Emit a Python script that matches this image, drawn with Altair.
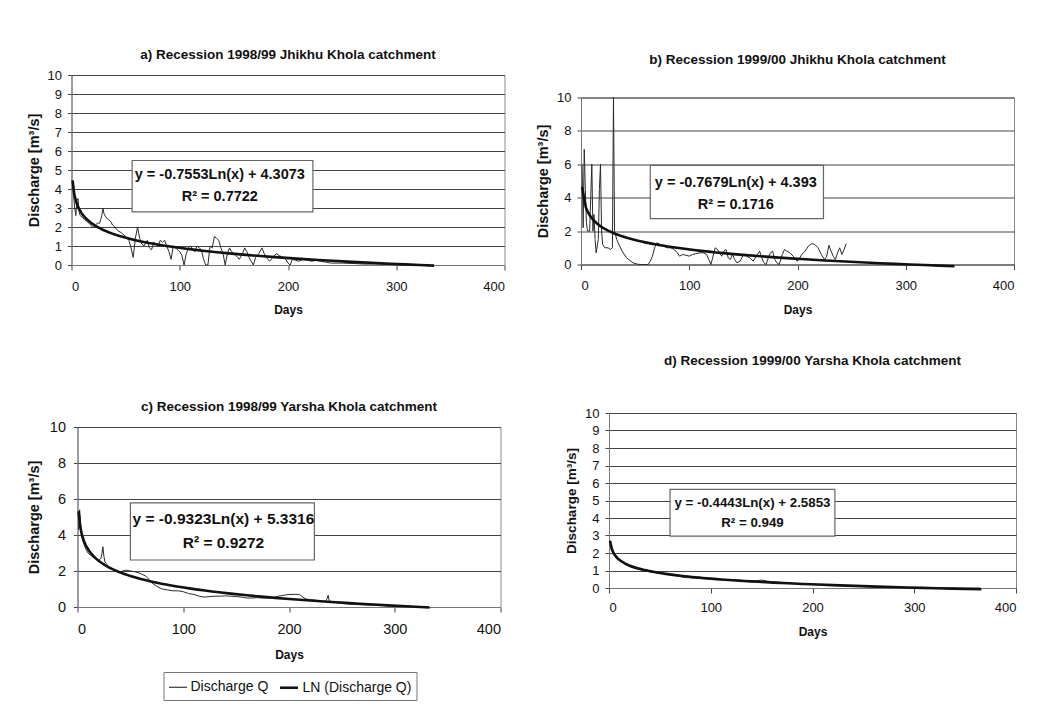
import altair as alt
import pandas as pd

FONT = "Liberation Sans"

# ---------------- data ----------------
a_days = [1, 2, 3, 4, 5, 6, 7, 8, 10, 12, 14, 16, 18, 20, 22, 24, 26, 28, 29, 30,
          32, 34, 36, 38, 40, 43, 46, 50, 53, 55, 57, 59, 61, 63, 65, 67, 70, 72, 74, 76,
          78, 80, 82, 84, 86, 88, 90, 92, 94, 96, 98, 100, 102, 104, 106, 108, 110, 112, 114, 116,
          118, 120, 122, 124, 126, 128, 130, 132, 134, 136, 138, 140, 142, 144, 146, 148, 150, 152, 155, 158,
          160, 162, 164, 166, 168, 170, 173, 176, 178, 180, 183, 186, 189, 192, 195, 198, 200, 202, 204, 207,
          210, 214, 218, 222, 226, 230, 235, 240, 250, 260, 270, 280, 290, 300, 310, 320, 330]
a_q = [4.2, 3.6, 3.0, 2.6, 3.4, 3.5, 2.8, 2.6, 2.5, 2.4, 2.3, 2.2, 2.1, 1.95, 2.1, 2.2, 2.2, 2.6, 3.0, 2.7,
       2.5, 2.4, 2.3, 2.1, 2.0, 1.8, 1.7, 1.5, 1.3, 0.9, 0.4, 1.4, 2.0, 1.4, 1.1, 1.0, 1.3, 0.9, 0.8, 1.2,
       1.1, 1.0, 1.3, 1.2, 1.3, 1.0, 0.7, 0.3, 1.0, 0.9, 0.8, 0.7, 0.5, 0.0, 0.6, 0.9, 1.0, 0.8, 0.7, 1.0,
       0.9, 0.8, 0.3, 0.0, 0.0, 1.0, 0.9, 1.5, 1.4, 1.3, 0.9, 0.6, 0.0, 0.6, 0.9, 0.7, 0.6, 0.5, 0.3, 0.6,
       0.9, 0.7, 0.4, 0.2, 0.0, 0.4, 0.6, 0.9, 0.6, 0.4, 0.2, 0.4, 0.6, 0.5, 0.4, 0.3, 0.1, 0.0, 0.3, 0.25,
       0.2, 0.3, 0.25, 0.2, 0.25, 0.2, 0.15, 0.1, 0.1, 0.08, 0.05, 0.05, 0.03, 0.02, 0.0, 0.0, 0.0]

b_days = [1, 2, 3, 4, 5, 6, 8, 10, 11, 12, 13, 14, 16, 17, 18, 19, 20, 22, 25, 27,
          29, 30, 31, 33, 35, 38, 42, 45, 48, 52, 55, 58, 62, 64, 66, 68, 70, 73, 76, 80,
          83, 86, 89, 91, 94, 97, 100, 103, 106, 110, 113, 116, 118, 120, 122, 124, 126, 128, 130, 132,
          134, 136, 138, 140, 142, 144, 147, 150, 153, 156, 159, 162, 165, 167, 169, 171, 173, 175, 177, 179,
          181, 183, 186, 188, 190, 193, 196, 198, 200, 202, 204, 207, 210, 213, 216, 219, 222, 225, 227, 229,
          231, 233, 235, 237, 239, 241, 243, 245]
b_q = [6.0, 2.2, 6.9, 4.5, 2.5, 2.0, 2.0, 6.0, 2.0, 3.0, 1.5, 0.7, 1.5, 4.5, 6.0, 2.0, 1.2, 1.0, 1.0, 0.9,
       1.0, 10.0, 2.0, 1.5, 1.2, 0.8, 0.4, 0.25, 0.1, 0.02, 0.0, 0.0, 0.0, 0.2, 0.5, 1.0, 1.3, 1.2, 1.1, 1.0,
       1.0, 0.9, 0.7, 0.5, 0.6, 0.55, 0.5, 0.6, 0.65, 0.7, 0.7, 0.6, 0.3, 0.0, 0.5, 1.0, 0.9, 0.7, 0.5, 0.8,
       0.9, 0.4, 0.3, 0.6, 0.3, 0.1, 0.2, 0.6, 0.5, 0.4, 0.2, 0.5, 0.8, 0.4, 0.1, 0.0, 0.4, 0.7, 0.8, 0.3,
       0.1, 0.0, 0.6, 0.9, 0.8, 0.7, 0.5, 0.3, 0.2, 0.4, 0.6, 0.8, 1.1, 1.25, 1.2, 1.0, 0.6, 0.3, 0.5, 1.15,
       0.8, 0.5, 0.3, 0.7, 1.0, 0.6, 0.9, 1.25]

c_days = [1, 2, 3, 4, 5, 6, 8, 10, 12, 15, 18, 20, 22, 23, 24, 25, 26, 28, 30, 33,
          36, 40, 43, 46, 50, 55, 60, 65, 68, 70, 75, 80, 85, 90, 95, 100, 105, 110, 115, 120,
          125, 130, 135, 140, 145, 150, 155, 160, 165, 170, 175, 180, 185, 190, 195, 200, 205, 210, 213, 216,
          220, 225, 230, 234, 236, 237, 238, 240, 245, 250, 260, 270, 280, 290, 300]
c_q = [4.3, 5.4, 4.6, 4.0, 3.7, 3.5, 3.2, 3.0, 2.9, 2.75, 2.65, 2.6, 2.7, 2.9, 3.35, 2.8, 2.5, 2.35, 2.2, 2.1,
       2.0, 1.95, 2.0, 2.05, 2.0, 1.95, 1.85, 1.7, 1.5, 1.35, 1.15, 1.0, 0.95, 0.9, 0.9, 0.85, 0.75, 0.7, 0.6, 0.55,
       0.58, 0.6, 0.6, 0.62, 0.6, 0.58, 0.55, 0.5, 0.5, 0.52, 0.5, 0.5, 0.52, 0.6, 0.65, 0.7, 0.7, 0.7, 0.55, 0.45,
       0.4, 0.38, 0.3, 0.3, 0.45, 0.65, 0.35, 0.3, 0.25, 0.2, 0.15, 0.12, 0.1, 0.08, 0.05]

d_days = [1, 2, 3, 4, 5, 6, 8, 10, 12, 15, 18, 20, 25, 30, 35, 40, 45, 50, 55, 60,
          65, 70, 75, 80, 85, 90, 95, 100, 105, 110, 115, 120, 125, 130, 135, 140, 145, 150, 155, 160,
          165, 170, 175, 180, 185, 190, 195, 200, 210, 220, 230, 240, 250, 260, 270, 280, 290, 300, 310, 320,
          330, 340, 350, 365]
d_q = [2.6, 2.45, 2.3, 2.15, 2.0, 1.9, 1.75, 1.6, 1.5, 1.38, 1.28, 1.22, 1.12, 1.05, 0.98, 0.95, 0.9, 0.85, 0.8, 0.75,
       0.7, 0.65, 0.6, 0.58, 0.56, 0.54, 0.52, 0.5, 0.48, 0.47, 0.47, 0.46, 0.47, 0.44, 0.42, 0.4, 0.42, 0.45, 0.4, 0.36,
       0.34, 0.32, 0.3, 0.27, 0.25, 0.23, 0.22, 0.2, 0.17, 0.15, 0.12, 0.1, 0.08, 0.06, 0.05, 0.04, 0.03, 0.02, 0.01, 0.0,
       0.0, 0.0, 0.0, 0.0]

titles = [
    "a) Recession 1998/99 Jhikhu Khola catchment",
    "b) Recession 1999/00 Jhikhu Khola catchment",
    "c) Recession 1998/99 Yarsha Khola catchment",
    "d) Recession 1999/00 Yarsha Khola catchment",
]
equations = [
    ["y = -0.7553Ln(x) + 4.3073", "R² = 0.7722"],
    ["y = -0.7679Ln(x) + 4.393", "R² = 0.1716"],
    ["y = -0.9323Ln(x) + 5.3316", "R² = 0.9272"],
    ["y = -0.4443Ln(x) + 2.5853", "R² = 0.949"],
]
series_names = ["Discharge Q", "LN (Discharge Q)"]

for d_, q_ in [(a_days, a_q), (b_days, b_q), (c_days, c_q), (d_days, d_q)]:
    assert len(d_) == len(q_)


def panel(days, q, title, eq, ext, ystep, w, h, toff, box, cx, ly, lab_size, eq_size,
          xlp, xtp, ylp, ytp, ytsize, legend=False):
    df = pd.DataFrame({"day": days, "q": q, "series": series_names[0]})
    x = alt.X("day:Q", scale=alt.Scale(domain=[0, 400], nice=False),
              axis=alt.Axis(values=[0, 100, 200, 300, 400], title="Days", grid=False,
                            labelFontSize=lab_size, titleFontSize=12, titleFontWeight="bold",
                            labelPadding=xlp, titlePadding=xtp, tickSize=5, labelOverlap=False))
    y = alt.Y("q:Q", scale=alt.Scale(domain=[0, 10], nice=False),
              axis=alt.Axis(values=list(range(0, 11, ystep)), title="Discharge [m³/s]", grid=True,
                            labelFontSize=lab_size, titleFontSize=ytsize, titleFontWeight="bold",
                            labelPadding=ylp, titlePadding=ytp, tickSize=4, labelOverlap=False))
    base = alt.Chart(df)
    enc_extra = {}
    if legend:
        enc_extra["strokeWidth"] = alt.StrokeWidth(
            "series:N",
            scale=alt.Scale(domain=series_names, range=[1.0, 2.6]),
            legend=alt.Legend(title=None, orient="none", legendX=86, legendY=245,
                              direction="horizontal", symbolType="stroke", symbolSize=324,
                              symbolStrokeColor="#111", labelFont=FONT, labelFontSize=14,
                              labelColor="#111", strokeColor="#777", padding=5,
                              columnPadding=6, labelOffset=3))
    data_line = base.mark_line(color="#2a2a2a", strokeWidth=1.0).encode(x=x, y=y, **enc_extra)
    trend = (base.transform_regression("day", "q", method="log", extent=ext)
             .transform_calculate(series='"LN (Discharge Q)"')
             .mark_line(color="#111", strokeWidth=2.6)
             .encode(x=x, y=y, **enc_extra))
    box_df = pd.DataFrame({"day": [box[0]], "day2": [box[1]], "q": [box[2]], "q2": [box[3]]})
    rect = alt.Chart(box_df).mark_rect(fill="white", stroke="#666", strokeWidth=1.2).encode(
        x=x, x2="day2:Q", y=y, y2="q2:Q")
    txt_df = pd.DataFrame({"day": [cx, cx], "q": [ly[0], ly[1]], "label": eq})
    txt = alt.Chart(txt_df).mark_text(font=FONT, fontWeight="bold", fontSize=eq_size,
                                      color="#111").encode(x=x, y=y, text="label:N")
    return alt.layer(data_line, trend, rect, txt).properties(
        width=w, height=h,
        title=alt.TitleParams(text=title, font=FONT, fontSize=13.5, fontWeight="bold",
                              color="#111", offset=toff, anchor="middle"))


pa = panel(a_days, a_q, titles[0], equations[0], [1, 335], 1, 433, 190, 8,
           [56, 223, 5.5, 2.8], 137, [4.72, 3.58], 13, 14.5, 10, 11.5, 6, 6, 14.5)
pb = panel(b_days, b_q, titles[1], equations[1], [1, 345], 2, 433, 167, 25.5,
           [64, 224, 5.93, 2.75], 143, [4.87, 3.59], 13, 14.5, 10, 11.5, 6, 6, 14.5)
pc = panel(c_days, c_q, titles[2], equations[2], [1, 333], 2, 423, 180, 6,
           [50, 224, 5.78, 2.61], 138, [4.87, 3.54], 14.5, 15.5, 10.5, 13.5, 8, 8, 14.5,
           legend=True)
pd_ = panel(d_days, d_q, titles[3], equations[3], [1, 366], 1, 407, 175, 40,
            [60, 222, 5.64, 2.97], 141, [4.84, 3.73], 13, 13.3, 8, 12.5, 6, 6, 13.5)


def spacer(w, h):
    return alt.Chart(pd.DataFrame({"k": [0]})).mark_point(size=0, opacity=0).encode(
        x=alt.value(0), y=alt.value(0)).properties(
        width=w, height=h, view=alt.ViewBackground(strokeOpacity=0))


IND = dict(strokeWidth="independent")
rowA = alt.hconcat(spacer(1, 1), pa, spacing=0)
rowB = alt.hconcat(spacer(1, 1), pb, spacing=0)
rowC = alt.hconcat(spacer(1, 1), pc, spacing=0).resolve_scale(**IND)
rowD = alt.hconcat(spacer(30, 1), pd_, spacing=0)

colL = alt.vconcat(alt.vconcat(spacer(1, 1), rowA, spacing=33), rowC,
                   spacing=83).resolve_scale(**IND)
colR = alt.vconcat(alt.vconcat(spacer(1, 1), rowB, spacing=37.5), rowD,
                   spacing=37).resolve_scale(**IND)

chart = (alt.hconcat(colL, colR, spacing=28.5)
         .resolve_scale(**IND)
         .properties(padding={"left": 16.5, "top": 5, "right": 5, "bottom": 5})
         .configure(background="white")
         .configure_axis(labelFont=FONT, titleFont=FONT, labelColor="#111", titleColor="#111",
                         domainColor="#777", tickColor="#444", gridColor="#444", gridWidth=1)
         .configure_view(stroke="#888", strokeWidth=1))

chart.save("out.html", embed_options={"renderer": "svg", "actions": False})
